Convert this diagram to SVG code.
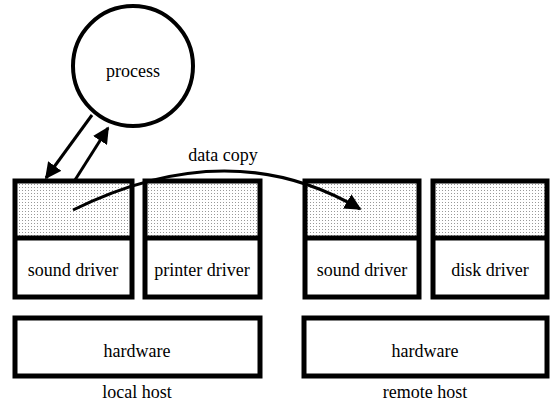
<svg xmlns="http://www.w3.org/2000/svg" width="550" height="403" viewBox="0 0 550 403">
  <style>
    .box { fill: none; stroke: #000; stroke-width: 5; }
    .buf { fill: url(#stipple); }
    .lbl { font-family: "Liberation Serif", "Times New Roman", serif; font-size: 18px; fill: #000; text-anchor: middle; }
    .link { fill: none; stroke: #000; stroke-width: 3; }
  </style>
  <defs>
    <pattern id="stipple" width="3" height="3" patternUnits="userSpaceOnUse">
      <rect width="3" height="3" fill="#fff"/>
      <rect x="1" y="1" width="1" height="1" fill="#999"/>
    </pattern>
    <marker id="head" viewBox="0 0 10 10" refX="9" refY="5" markerWidth="5.5" markerHeight="5.5" orient="auto" markerUnits="strokeWidth">
      <path d="M0,0 L10,5 L0,10 z" fill="#000"/>
    </marker>
  </defs>

  <rect width="550" height="403" fill="#fff"/>

  <!-- process -->
  <g id="process">
    <circle cx="133" cy="66" r="60" fill="#fff" stroke="#000" stroke-width="4"/>
    <text class="lbl" x="133" y="77">process</text>
  </g>

  <!-- local host drivers -->
  <g id="local-sound-driver">
    <rect class="buf" x="15" y="181" width="117" height="57"/>
    <rect class="box" x="15" y="181" width="117" height="116"/>
    <line class="box" x1="15" y1="238" x2="132" y2="238"/>
    <text class="lbl" x="73" y="276">sound driver</text>
  </g>
  <g id="local-printer-driver">
    <rect class="buf" x="145" y="181" width="115" height="57"/>
    <rect class="box" x="145" y="181" width="115" height="116"/>
    <line class="box" x1="145" y1="238" x2="260" y2="238"/>
    <text class="lbl" x="202" y="276">printer driver</text>
  </g>

  <!-- remote host drivers -->
  <g id="remote-sound-driver">
    <rect class="buf" x="305" y="181" width="114" height="57"/>
    <rect class="box" x="305" y="181" width="114" height="116"/>
    <line class="box" x1="305" y1="238" x2="419" y2="238"/>
    <text class="lbl" x="362" y="276">sound driver</text>
  </g>
  <g id="remote-disk-driver">
    <rect class="buf" x="433" y="181" width="114" height="57"/>
    <rect class="box" x="433" y="181" width="114" height="116"/>
    <line class="box" x1="433" y1="238" x2="547" y2="238"/>
    <text class="lbl" x="490" y="276">disk driver</text>
  </g>

  <!-- hardware -->
  <g id="local-hardware">
    <rect class="box" x="15" y="318" width="245" height="58"/>
    <text class="lbl" x="137" y="357">hardware</text>
  </g>
  <g id="remote-hardware">
    <rect class="box" x="304" y="318" width="243" height="58"/>
    <text class="lbl" x="425" y="357">hardware</text>
  </g>

  <!-- host captions -->
  <g id="captions">
    <text class="lbl" x="137" y="398">local host</text>
    <text class="lbl" x="425" y="398">remote host</text>
  </g>

  <!-- connectors -->
  <g id="connectors">
    <line class="link" x1="92" y1="115" x2="46" y2="178" marker-end="url(#head)"/>
    <line class="link" x1="75" y1="180" x2="108" y2="128" marker-end="url(#head)"/>
    <path class="link" stroke-width="2.5" d="M73,210 C160,167 260,150 360,209" marker-end="url(#head)"/>
    <text class="lbl" x="223" y="161">data copy</text>
  </g>
</svg>
